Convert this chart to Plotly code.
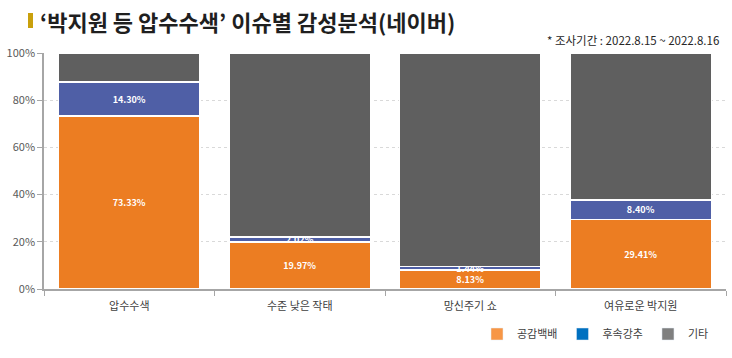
import plotly.graph_objects as go

categories = ["압수수색", "수준 낮은 작태", "망신주기 쇼", "여유로운 박지원"]
series_names = ["공감백배", "후속강추", "기타"]
empathy = [73.33, 19.97, 8.13, 29.41]
follow_up = [14.30, 2.02, 1.44, 8.40]
other = [12.37, 78.01, 90.43, 62.19]

bar_colors = ["#EC7D22", "#4F5FA6", "#5F5F5F"]
legend_colors = ["#F79646", "#0070C0", "#7F7F7F"]
font_family = "Noto Sans CJK KR, Noto Sans, sans-serif"

W, H = 732, 358
ML, MR, MT, MB = 44, 6, 53, 69
PW, PH = W - ML - MR, H - MT - MB


def px_x(x):
    return (x - ML) / PW


def px_y(y):
    return 1 + (MT - y) / PH


fig = go.Figure()
values = [empathy, follow_up, other]
for i, (name, vals) in enumerate(zip(series_names, values)):
    show_text = i < 2
    fig.add_trace(go.Bar(
        x=categories, y=vals, name=name,
        marker=dict(color=bar_colors[i], line=dict(color="white", width=1.5)),
        texttemplate="%{y:.2f}%" if show_text else None,
        textposition="inside" if show_text else "none",
        insidetextanchor="middle",
        textfont=dict(color="white", size=9, family=font_family, weight="bold"),
        showlegend=False,
    ))
    fig.add_trace(go.Bar(
        x=[None], y=[None], name=name,
        marker=dict(color=legend_colors[i]),
        showlegend=True,
    ))

fig.update_layout(
    width=W, height=H,
    barmode="stack", bargap=0.17,
    margin=dict(l=ML, r=MR, t=MT, b=MB, autoexpand=False),
    paper_bgcolor="white", plot_bgcolor="white",
    font=dict(family=font_family, size=11, color="#404040"),
    uniformtext=dict(minsize=9, mode="show"),
    legend=dict(orientation="h", x=px_x(714), xanchor="right",
                y=px_y(334), yanchor="middle",
                font=dict(size=11, color="#404040"), itemwidth=30,
                traceorder="normal", bgcolor="rgba(0,0,0,0)"),
    xaxis=dict(showline=True, linecolor="#A6A6A6", linewidth=1.5,
               ticks="outside", ticklen=5, tickcolor="#A6A6A6",
               tickson="boundaries", tickfont=dict(size=11, color="#404040"),
               ticklabelstandoff=6, automargin=False,
               range=[-0.5, 3.5]),
    yaxis=dict(range=[0, 100], ticksuffix="%", dtick=20,
               showline=True, linecolor="#A6A6A6", linewidth=1.5,
               ticks="outside", ticklen=5, tickcolor="#A6A6A6",
               showgrid=True, gridcolor="#D9D9D9", griddash="dot",
               tickfont=dict(size=11, color="#595959"), zeroline=False,
               automargin=False),
    shapes=[dict(type="rect", xref="paper", yref="paper",
                 x0=px_x(28), x1=px_x(33), y0=px_y(28), y1=px_y(13),
                 fillcolor="#C9A00C", line=dict(width=0))],
)

fig.add_annotation(xref="paper", yref="paper", x=px_x(38), y=px_y(21),
                   xanchor="left", yanchor="middle", showarrow=False,
                   text="<b>‘박지원 등 압수수색’ 이슈별 감성분석(네이버)</b>",
                   font=dict(size=22, color="#1F1F1F", family=font_family))
fig.add_annotation(xref="paper", yref="paper", x=px_x(721), y=px_y(40),
                   xanchor="right", yanchor="middle", showarrow=False,
                   text="* 조사기간 : 2022.8.15 ~ 2022.8.16",
                   font=dict(size=11.5, color="#262626", family=font_family))

fig.write_html("out.html", config={"displayModeBar": False},
               post_script="document.body.style.margin='0';document.body.style.padding='0';")
